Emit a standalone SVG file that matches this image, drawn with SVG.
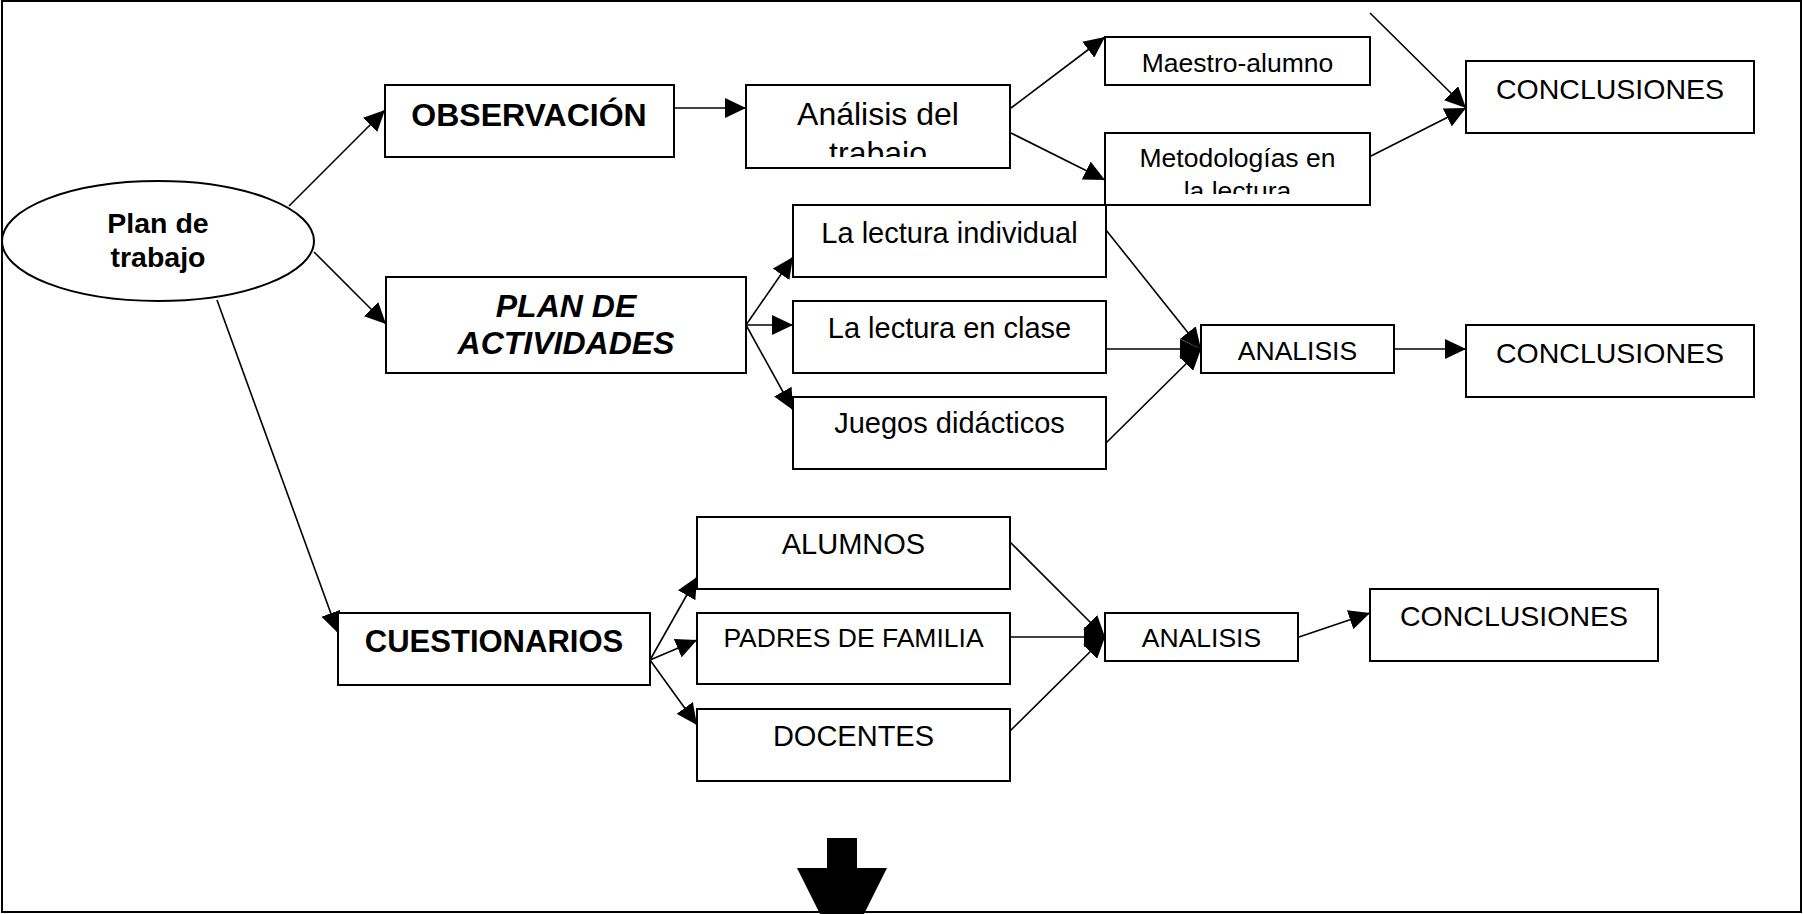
<svg xmlns="http://www.w3.org/2000/svg" width="1803" height="914" viewBox="0 0 1803 914">
<style>
.box{fill:#fff;stroke:#000;stroke-width:2}
.t{font-family:"Liberation Sans",Arial,sans-serif;fill:#000;text-anchor:middle}
.b{font-weight:bold}
.c{stroke:#000;stroke-width:1.6;fill:none;marker-end:url(#ah)}
</style>
<defs>
<marker id="ah" markerUnits="userSpaceOnUse" markerWidth="22" markerHeight="20" refX="21" refY="10" orient="auto" viewBox="0 0 22 20">
<path d="M0,0 L21,10 L0,20 z" fill="#000"/>
</marker>
<clipPath id="clipA"><rect x="746" y="85" width="264" height="72"/></clipPath>
<clipPath id="clipM"><rect x="1105" y="133" width="265" height="61"/></clipPath>
</defs>
<rect x="0" y="0" width="1803" height="914" fill="#fff"/>
<rect id="frame" x="2" y="1" width="1799" height="911" fill="none" stroke="#000" stroke-width="2"/>

<g id="connectors">
<line class="c" x1="289" y1="206" x2="385" y2="110"/>
<line class="c" x1="314" y1="252" x2="386" y2="324"/>
<line class="c" x1="217" y1="300" x2="338" y2="633"/>
<line class="c" x1="674" y1="108" x2="746" y2="108"/>
<line class="c" x1="1011" y1="108" x2="1105" y2="37"/>
<line class="c" x1="1011" y1="133" x2="1105" y2="180"/>
<line class="c" x1="1370" y1="13" x2="1466" y2="108"/>
<line class="c" x1="1371" y1="156" x2="1466" y2="108"/>
<line class="c" x1="746" y1="325" x2="793" y2="257"/>
<line class="c" x1="746" y1="325" x2="793" y2="325"/>
<line class="c" x1="746" y1="325" x2="793" y2="410"/>
<line class="c" x1="1106" y1="230" x2="1201" y2="349"/>
<line class="c" x1="1106" y1="349" x2="1201" y2="349"/>
<line class="c" x1="1106" y1="443" x2="1201" y2="349"/>
<line class="c" x1="1394" y1="349" x2="1466" y2="349"/>
<line class="c" x1="650" y1="660" x2="697" y2="577"/>
<line class="c" x1="650" y1="660" x2="697" y2="640"/>
<line class="c" x1="650" y1="660" x2="697" y2="725"/>
<line class="c" x1="1010" y1="542" x2="1105" y2="637"/>
<line class="c" x1="1010" y1="637" x2="1105" y2="637"/>
<line class="c" x1="1010" y1="731" x2="1105" y2="637"/>
<line class="c" x1="1299" y1="637" x2="1370" y2="613"/>
</g>

<g id="plan-trabajo">
<ellipse class="box" cx="158" cy="241" rx="156" ry="60"/>
<text class="t b" x="158" y="233" font-size="28.5">Plan de</text>
<text class="t b" x="158" y="267" font-size="28.5">trabajo</text>
</g>
<g id="observacion">
<rect class="box" x="385" y="85" width="289" height="72"/>
<text class="t b" x="529" y="126" font-size="32">OBSERVACIÓN</text>
</g>
<g id="plan-actividades">
<rect class="box" x="386" y="277" width="360" height="96"/>
<text class="t b" x="566" y="317" font-size="32" font-style="italic">PLAN DE</text>
<text class="t b" x="566" y="354" font-size="32" font-style="italic">ACTIVIDADES</text>
</g>
<g id="cuestionarios">
<rect class="box" x="338" y="613" width="312" height="72"/>
<text class="t b" x="494" y="652" font-size="31">CUESTIONARIOS</text>
</g>
<g id="analisis-trabajo">
<rect class="box" x="746" y="85" width="264" height="83"/>
<g clip-path="url(#clipA)">
<text class="t" x="878" y="125" font-size="32">Análisis del</text>
<text class="t" x="878" y="164" font-size="32">trabajo</text>
</g>
</g>
<g id="maestro-alumno">
<rect class="box" x="1105" y="37" width="265" height="48"/>
<text class="t" x="1237.5" y="72" font-size="26.5">Maestro-alumno</text>
</g>
<g id="metodologias">
<rect class="box" x="1105" y="133" width="265" height="72"/>
<g clip-path="url(#clipM)">
<text class="t" x="1237.5" y="167" font-size="26.5">Metodologías en</text>
<text class="t" x="1237.5" y="200" font-size="26.5">la lectura</text>
</g>
</g>
<g id="conclusiones-1">
<rect class="box" x="1466" y="61" width="288" height="72"/>
<text class="t" x="1610" y="99" font-size="28.5">CONCLUSIONES</text>
</g>
<g id="lectura-individual">
<rect class="box" x="793" y="205" width="313" height="72"/>
<text class="t" x="949.5" y="243" font-size="29">La lectura individual</text>
</g>
<g id="lectura-clase">
<rect class="box" x="793" y="301" width="313" height="72"/>
<text class="t" x="949.5" y="338" font-size="29">La lectura en clase</text>
</g>
<g id="juegos">
<rect class="box" x="793" y="397" width="313" height="72"/>
<text class="t" x="949.5" y="433" font-size="29">Juegos didácticos</text>
</g>
<g id="analisis-1">
<rect class="box" x="1201" y="325" width="193" height="48"/>
<text class="t" x="1297.5" y="360" font-size="26.5">ANALISIS</text>
</g>
<g id="conclusiones-2">
<rect class="box" x="1466" y="325" width="288" height="72"/>
<text class="t" x="1610" y="363" font-size="28.5">CONCLUSIONES</text>
</g>
<g id="alumnos">
<rect class="box" x="697" y="517" width="313" height="72"/>
<text class="t" x="853.5" y="554" font-size="29">ALUMNOS</text>
</g>
<g id="padres">
<rect class="box" x="697" y="613" width="313" height="71"/>
<text class="t" x="853.5" y="647" font-size="26.5">PADRES DE FAMILIA</text>
</g>
<g id="docentes">
<rect class="box" x="697" y="709" width="313" height="72"/>
<text class="t" x="853.5" y="746" font-size="29">DOCENTES</text>
</g>
<g id="analisis-2">
<rect class="box" x="1105" y="613" width="193" height="48"/>
<text class="t" x="1201.5" y="647" font-size="26.5">ANALISIS</text>
</g>
<g id="conclusiones-3">
<rect class="box" x="1370" y="589" width="288" height="72"/>
<text class="t" x="1514" y="626" font-size="28.5">CONCLUSIONES</text>
</g>
<g id="block-arrow">
<polygon points="827,838 857,838 857,868 887,868 842,958 797,868 827,868" fill="#000"/>
</g>
</svg>
